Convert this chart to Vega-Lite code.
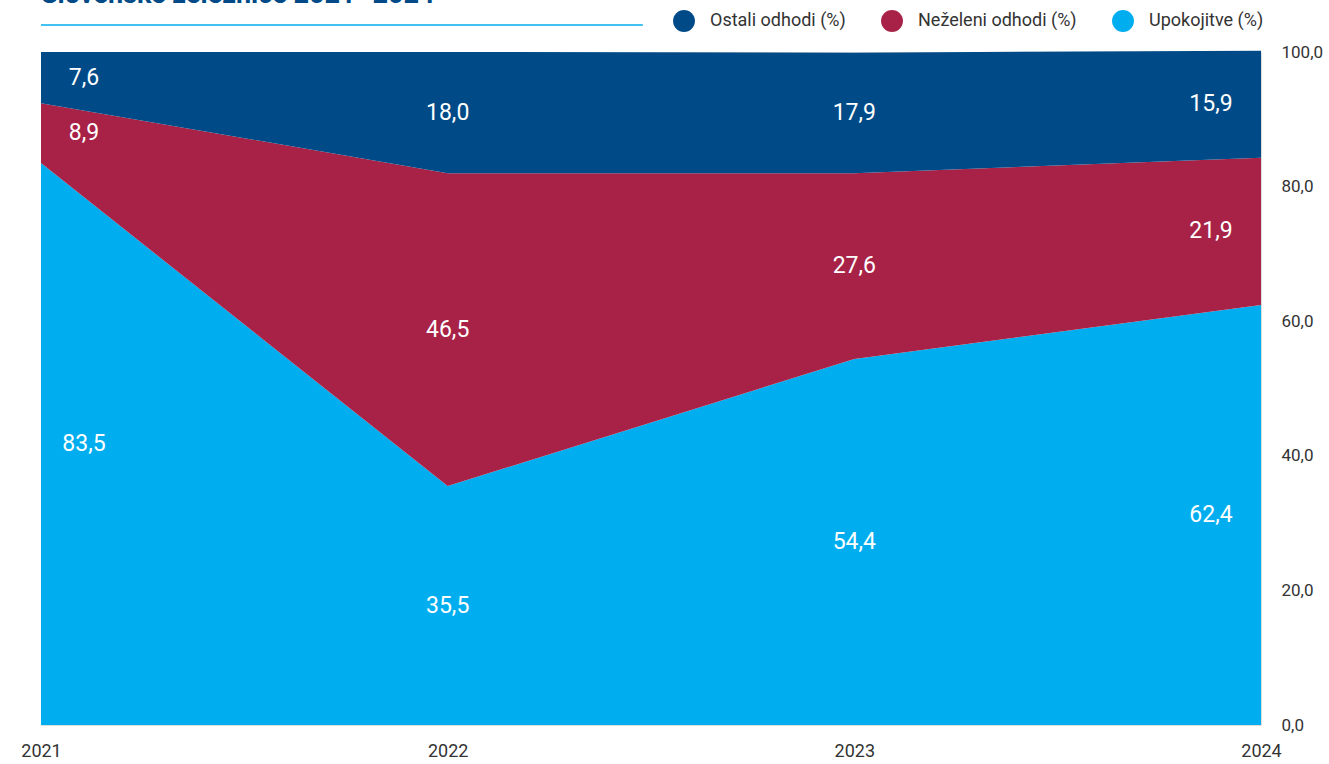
{
  "$schema": "https://vega.github.io/schema/vega-lite/v6.json",
  "width": 1220,
  "height": 673,
  "autosize": {"type": "none"},
  "padding": {"top": 52, "left": 41, "right": 68, "bottom": 39},
  "background": "white",
  "title": {
    "text": "Slovenske železnice 2021–2024",
    "anchor": "start",
    "frame": "group",
    "fontSize": 27,
    "font": "Roboto",
    "fontWeight": "bold",
    "color": "#004b87",
    "baseline": "alphabetic",
    "offset": 0,
    "dy": 20
  },
  "data": {
    "values": [
      {"leto": 2021, "serija": "Upokojitve (%)", "red": 1, "vrednost": 83.5},
      {"leto": 2021, "serija": "Neželeni odhodi (%)", "red": 2, "vrednost": 8.9},
      {"leto": 2021, "serija": "Ostali odhodi (%)", "red": 3, "vrednost": 7.6},
      {"leto": 2022, "serija": "Upokojitve (%)", "red": 1, "vrednost": 35.5},
      {"leto": 2022, "serija": "Neželeni odhodi (%)", "red": 2, "vrednost": 46.5},
      {"leto": 2022, "serija": "Ostali odhodi (%)", "red": 3, "vrednost": 18.0},
      {"leto": 2023, "serija": "Upokojitve (%)", "red": 1, "vrednost": 54.4},
      {"leto": 2023, "serija": "Neželeni odhodi (%)", "red": 2, "vrednost": 27.6},
      {"leto": 2023, "serija": "Ostali odhodi (%)", "red": 3, "vrednost": 17.9},
      {"leto": 2024, "serija": "Upokojitve (%)", "red": 1, "vrednost": 62.4},
      {"leto": 2024, "serija": "Neželeni odhodi (%)", "red": 2, "vrednost": 21.9},
      {"leto": 2024, "serija": "Ostali odhodi (%)", "red": 3, "vrednost": 15.9}
    ]
  },
  "transform": [
    {"stack": "vrednost", "groupby": ["leto"], "sort": [{"field": "red", "order": "ascending"}], "as": ["y0", "y1"]},
    {"calculate": "(datum.y0 + datum.y1) / 2", "as": "ysred"},
    {"calculate": "replace(format(datum.vrednost, '.1f'), '.', ',')", "as": "oznaka"}
  ],
  "layer": [
    {
      "mark": {"type": "area", "interpolate": "linear"},
      "encoding": {
        "x": {
          "field": "leto", "type": "quantitative",
          "scale": {"domain": [2021, 2024], "nice": false, "zero": false},
          "axis": {
            "values": [2021, 2022, 2023, 2024], "format": "d", "title": null,
            "domain": false, "ticks": false, "grid": false,
            "labelFontSize": 18, "labelFont": "Roboto", "labelColor": "#333333",
            "labelPadding": 17, "labelFlush": false
          }
        },
        "y": {
          "field": "y1", "type": "quantitative",
          "scale": {"domain": [0, 100], "nice": false},
          "axis": {
            "orient": "right", "values": [0, 20, 40, 60, 80, 100], "title": null,
            "domain": false, "ticks": false, "grid": false,
            "labelExpr": "replace(format(datum.value, '.1f'), '.', ',')",
            "labelFontSize": 17, "labelFont": "Roboto", "labelColor": "#333333",
            "labelPadding": 20, "labelBaseline": "middle"
          }
        },
        "y2": {"field": "y0"},
        "color": {
          "field": "serija", "type": "nominal",
          "scale": {
            "domain": ["Ostali odhodi (%)", "Neželeni odhodi (%)", "Upokojitve (%)"],
            "range": ["#004b87", "#a82247", "#00aeef"]
          },
          "legend": {
            "title": null, "orient": "none", "direction": "horizontal",
            "legendX": 632, "legendY": -42,
            "symbolType": "circle", "symbolSize": 480, "symbolStrokeWidth": 0,
            "symbolOpacity": 1,
            "labelFontSize": 18, "labelFont": "Roboto", "labelColor": "#333333",
            "labelOffset": 15, "columnPadding": 35
          }
        },
        "detail": {"field": "serija"}
      }
    },
    {
      "transform": [{"filter": "datum.leto == 2021"}],
      "mark": {"type": "text", "color": "white", "fontSize": 23, "font": "Roboto", "dx": 43, "baseline": "middle"},
      "encoding": {
        "x": {"field": "leto", "type": "quantitative"},
        "y": {"field": "ysred", "type": "quantitative"},
        "text": {"field": "oznaka"}
      }
    },
    {
      "transform": [{"filter": "datum.leto == 2022 || datum.leto == 2023"}],
      "mark": {"type": "text", "color": "white", "fontSize": 23, "font": "Roboto", "dx": 0, "baseline": "middle"},
      "encoding": {
        "x": {"field": "leto", "type": "quantitative"},
        "y": {"field": "ysred", "type": "quantitative"},
        "text": {"field": "oznaka"}
      }
    },
    {
      "transform": [{"filter": "datum.leto == 2024"}],
      "mark": {"type": "text", "color": "white", "fontSize": 23, "font": "Roboto", "dx": -50, "baseline": "middle"},
      "encoding": {
        "x": {"field": "leto", "type": "quantitative"},
        "y": {"field": "ysred", "type": "quantitative"},
        "text": {"field": "oznaka"}
      }
    },
    {
      "data": {"values": [{"x1": 2021, "x2": 2022.48, "y": 104}]},
      "transform": [],
      "mark": {"type": "rule", "color": "#00aeef", "strokeWidth": 1.5},
      "encoding": {
        "x": {"field": "x1", "type": "quantitative"},
        "x2": {"field": "x2"},
        "y": {"field": "y", "type": "quantitative"}
      }
    }
  ]
}
